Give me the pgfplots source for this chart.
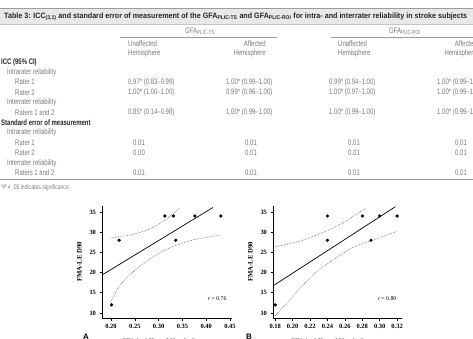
\documentclass[border=0pt]{standalone}
\usepackage{fontspec}
\usepackage{graphicx}
\usepackage{pgfplots}
\pgfplotsset{compat=1.18}
\setmainfont{Liberation Sans}
\newfontfamily\cond{Liberation Sans}[FakeStretch=0.75]
\newfontfamily\plotfont{Liberation Serif}
\definecolor{bodygray}{HTML}{7A7A7A}
\definecolor{headfill}{HTML}{E8E8E8}
\definecolor{rulegray}{HTML}{9C9C9C}

% table text helpers (x, y measured from the top-left corner)
\newcommand\tl[3]{\node[anchor=west,inner sep=0,text=bodygray] at (#1,#2) {\cond\fontsize{8}{9}\selectfont #3};}
\newcommand\tr[3]{\node[anchor=east,inner sep=0,text=bodygray] at (#1,#2) {\cond\fontsize{8}{9}\selectfont #3};}
\newcommand\tb[3]{\node[anchor=west,inner sep=0,text=black!85] at (#1,#2) {\cond\bfseries\fontsize{8}{9}\selectfont #3};}

\pgfplotsset{fmastyle/.style={
  scale only axis, anchor=south west,
  axis x line*=bottom, axis y line*=left,
  axis line style={line width=0.6bp, black},
  tick align=outside, major tick length=2.5bp,
  tick style={line width=0.6bp, black},
  ymin=8.76, ymax=36.5, ytick={10,15,...,35},
  height=112.1bp,
  ticklabel style={font=\plotfont\bfseries\fontsize{6.5}{7}\selectfont},
  xticklabel style={/pgf/number format/.cd, fixed, fixed zerofill, precision=2},
  /pgf/number format/assume math mode=true,
  ylabel={FMA-LE D90},
  ylabel style={font=\plotfont\bfseries\fontsize{6.8}{7}\selectfont, yshift=1bp},
  clip=false,
  fit/.style={black, line width=0.7bp},
  band/.style={black!70, densely dotted, line width=0.55bp},
  pts/.style={only marks, mark=*, mark size=1.45bp, black},
}}

\begin{document}
\begin{tikzpicture}
\useasboundingbox (0,0) rectangle (473bp,339bp);
\clip (0,0) rectangle (473bp,339bp);

\begin{scope}[x=1bp,y=-1bp,yshift=339bp]
  % title bar
  \fill[headfill] (0,9) rectangle (473,24);
  \draw[rulegray,line width=1.2bp] (0,8.6) -- (473,8.6);
  \draw[rulegray!60,line width=0.5bp] (0,24) -- (473,24);
  \node[anchor=west,inner sep=0] at (4,16.5) {\resizebox{463bp}{\height}{\fontsize{7.8}{9}\selectfont\bfseries\color{black!85}Table 3: ICC\textsubscript{(3,1)} and standard error of measurement of the GFA\textsubscript{PLIC-TS} and GFA\textsubscript{PLIC-ROI} for intra- and interrater reliability in stroke subjects}};

  % column groups
  \node[inner sep=0,text=bodygray] at (200,31) {\cond\fontsize{8}{9}\selectfont GFA\textsubscript{PLIC-TS}};
  \node[inner sep=0,text=bodygray] at (405,31) {\cond\fontsize{8}{9}\selectfont GFA\textsubscript{PLIC-ROI}};
  \draw[rulegray,line width=0.5bp] (120,36.8) -- (277,36.8);
  \draw[rulegray,line width=0.5bp] (331,36.8) -- (473,36.8);

  \tl{128}{43.5}{Unaffected} \tl{128}{53.5}{Hemisphere}
  \tr{266}{43.5}{Affected}   \tr{266}{53.5}{Hemisphere}
  \tl{338}{43.5}{Unaffected} \tl{338}{53.5}{Hemisphere}
  \tr{477}{43.5}{Affected}   \tr{477}{53.5}{Hemisphere}

  % ICC block
  \tb{1}{62}{ICC (95\% CI)}
  \tl{7}{72.1}{Intrarater reliability}
  \tl{15}{82.2}{Rater 1}
  \tl{128}{82.2}{0.97* (0.83–0.99)} \tl{226}{82.2}{1.00* (0.99–1.00)} \tl{329}{82.2}{0.99* (0.94–1.00)} \tl{437}{82.2}{1.00* (0.99–1.00)}
  \tl{15}{92.3}{Rater 2}
  \tl{128}{92.3}{1.00* (1.00–1.00)} \tl{226}{92.3}{0.99* (0.96–1.00)} \tl{329}{92.3}{1.00* (0.97–1.00)} \tl{437}{92.3}{1.00* (0.99–1.00)}
  \tl{7}{102.4}{Interrater reliability}
  \tl{15}{112.5}{Raters 1 and 2}
  \tl{128}{112.5}{0.85* (0.14–0.98)} \tl{226}{112.5}{1.00* (0.99–1.00)} \tl{329}{112.5}{1.00* (0.99–1.00)} \tl{437}{112.5}{1.00* (0.99–1.00)}

  % SEM block
  \tb{1}{122.6}{Standard error of measurement}
  \tl{7}{132.7}{Intrarater reliability}
  \tl{15}{142.8}{Rater 1}
  \tl{133}{142.8}{0.01} \tl{245}{142.8}{0.01} \tl{348}{142.8}{0.01} \tl{455}{142.8}{0.01}
  \tl{15}{152.9}{Rater 2}
  \tl{133}{152.9}{0.00} \tl{245}{152.9}{0.01} \tl{348}{152.9}{0.01} \tl{455}{152.9}{0.01}
  \tl{7}{163}{Interrater reliability}
  \tl{15}{173.1}{Raters 1 and 2}
  \tl{133}{173.1}{0.01} \tl{245}{173.1}{0.01} \tl{348}{173.1}{0.01} \tl{455}{173.1}{0.01}

  \draw[rulegray,line width=0.9bp] (0,179.8) -- (473,179.8);
  \node[anchor=west,inner sep=0,text=bodygray] at (1,187.5) {\cond\fontsize{6.8}{8}\selectfont *\textit{P} \textless{} .05 indicates significance.};

  % panel letters and axis titles
  \node[anchor=north,inner sep=0] at (86,333.5) {\fontsize{8}{9}\selectfont\bfseries A};
  \node[anchor=north,inner sep=0] at (249,333.5) {\fontsize{8}{9}\selectfont\bfseries B};
  \node[inner sep=0,text=black!80] at (163,341.5) {\plotfont\bfseries\fontsize{6.8}{7}\selectfont GFA in Affected Hemisphere};
  \node[inner sep=0,text=black!80] at (332,341.5) {\plotfont\bfseries\fontsize{6.8}{7}\selectfont GFA in Affected Hemisphere};
\end{scope}

% Panel A
\begin{axis}[fmastyle, at={(102bp,21bp)},
  xmin=0.181, xmax=0.455, width=130.4bp,
  xtick={0.20,0.25,...,0.45}]
  \addplot[pts] coordinates {(0.201,12) (0.217,28) (0.313,34) (0.331,34) (0.336,28) (0.376,34) (0.431,34)};
  \addplot[fit] coordinates {(0.181,19.4) (0.414,36.1)};
  \addplot[band, smooth] coordinates {(0.199,28.6) (0.24,29.3) (0.275,30.5) (0.30,32.0) (0.315,33.2) (0.33,34.5) (0.345,36.0)};
  \addplot[band, smooth] coordinates {(0.199,12.6) (0.215,16.2) (0.240,19.5) (0.275,22.8) (0.303,24.9) (0.331,26.5) (0.373,28.1) (0.432,29.3)};
  \node[font=\plotfont\fontsize{5.8}{6}\selectfont] at (axis cs:0.423,13.5) {\textit{r} = 0.76};
\end{axis}

% Panel B
\begin{axis}[fmastyle, at={(273bp,21bp)},
  xmin=0.1775, xmax=0.325, width=128.5bp,
  xtick={0.18,0.20,...,0.32}]
  \addplot[pts] coordinates {(0.18,12) (0.24,34) (0.24,28) (0.28,34) (0.29,28) (0.30,34) (0.32,34)};
  \addplot[fit] coordinates {(0.1775,16.7) (0.318,36.3)};
  \addplot[band, smooth] coordinates {(0.18,26.4) (0.21,27.9) (0.24,30.4) (0.26,32.6) (0.275,34.7) (0.284,35.9)};
  \addplot[band, smooth] coordinates {(0.18,9.3) (0.195,12.8) (0.21,16.5) (0.23,20.6) (0.249,23.5) (0.267,26.0) (0.29,27.9) (0.32,30.2)};
  \node[font=\plotfont\fontsize{5.8}{6}\selectfont] at (axis cs:0.3084,13.5) {\textit{r} = 0.80};
\end{axis}
\end{tikzpicture}
\end{document}
